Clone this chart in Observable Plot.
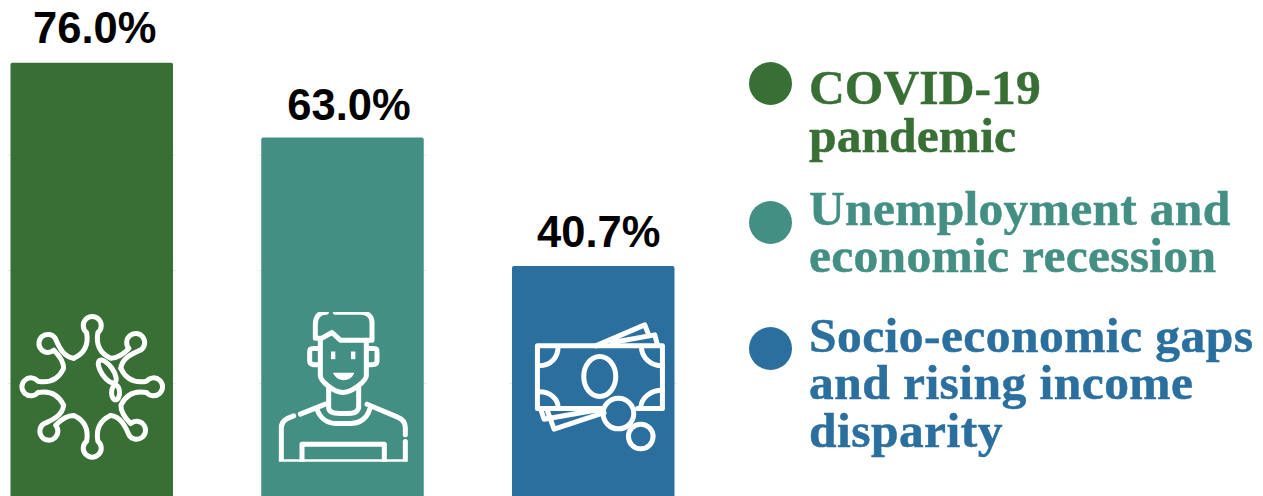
<!DOCTYPE html>
<html>
<head>
<meta charset="utf-8">
<script src="https://cdn.jsdelivr.net/npm/d3@7"></script>
<script src="https://cdn.jsdelivr.net/npm/@observablehq/plot@0.6"></script>
<style>
  html, body { margin: 0; background: #fff; width: 1263px; height: 496px; overflow: hidden; }
  #chart { position: absolute; left: 0; top: 0; }
  .legend-row { position: absolute; left: 749px; top: 0; }
  .legend-row i { position: absolute; left: 0; width: 43px; height: 43px; border-radius: 50%; }
  .legend-row p {
    position: absolute; left: 60px; margin: 0; white-space: pre;
    font: bold 49.5px/47.5px "Liberation Serif", serif;
    -webkit-text-stroke: 0.5px currentColor;
  }
</style>
</head>
<body>
<div id="chart"></div>
<div id="legend"></div>
<script>
// Shares of respondents naming each concern
const categories = ["COVID-19 pandemic", "Unemployment and economic recession", "Socio-economic gaps and rising income disparity"];
const shares = [76.0, 63.0, 40.7];
const colors = ["#376f35", "#448f84", "#2a6f9e"];
const legendLines = [["COVID-19", "pandemic"], ["Unemployment and", "economic recession"], ["Socio-economic gaps", "and rising income", "disparity"]];
const legendTracking = [0.1, 0.3, 0.45];
const gridLevels = [20.4, 40, 60];

// Outline pictograms, one per bar
const virusBody = [0, 90, 180, 270].map((a) => `<path transform="rotate(${a})" d="M-55,-86C-25,-100 -10,-125 -17,-163A27,27 0 1 1 17,-163C10,-125 25,-100 55,-86C80,-85 100,-105 110,-115A27,27 0 1 1 146,-111C120,-100 88,-85 86,-55"/>`).join("");
const virus = `<svg xmlns="http://www.w3.org/2000/svg" viewBox="-225 -225 450 450"><g fill="none" stroke="#fff" stroke-width="15" stroke-linecap="round" stroke-linejoin="round">${virusBody}<ellipse cx="45" cy="-46" rx="17" ry="40" transform="rotate(-35 45 -46)"/><ellipse cx="70" cy="17" rx="12" ry="22"/></g></svg>`;

const person = `<svg xmlns="http://www.w3.org/2000/svg" viewBox="803 93 450 450"><g fill="none" stroke="#fff" stroke-width="15" stroke-linecap="round" stroke-linejoin="round">
<path d="M978,94C955,94 945,110 945,130L945,172L965,172L995,155L1020,178L1115,178L1115,125C1115,105 1100,94 1080,94L1005,94"/>
<path d="M960,178L960,285C960,300 1000,335 1028,335C1055,335 1098,300 1098,285L1098,178"/>
<path d="M955,203L940,203C928,203 928,205 928,215L928,240C928,250 935,252 955,252"/>
<path d="M1105,203L1120,203C1130,203 1130,205 1130,215L1130,240C1130,250 1125,252 1105,252"/>
<path d="M985,320L985,380C985,395 1000,398 1020,398L1040,398C1060,398 1072,395 1075,380L1075,320"/>
<path d="M950,385C960,415 985,428 1010,428L1050,428C1075,428 1100,415 1108,385"/>
<path d="M900,400L975,370M880,405C860,412 843,420 843,440L843,543L1215,543L1215,482M1215,462L1215,440C1215,420 1200,412 1190,408L1100,370"/>
<path d="M905,543L905,490L1152,490L1152,543"/>
</g><g fill="#fff"><rect x="992" y="212" width="13" height="23"/><rect x="1052" y="212" width="13" height="23"/><path d="M998,276L1062,276C1056,292 1042,298 1030,298C1015,298 1004,290 998,276Z"/></g></svg>`;

const money = `<svg xmlns="http://www.w3.org/2000/svg" viewBox="54 333 450 450"><g fill="none" stroke="#fff" stroke-width="15" stroke-linecap="round" stroke-linejoin="round">
<path d="M305,623L110,623L110,435L485,435L485,623L410,623"/>
<path d="M115,495C150,495 172,470 172,438M485,495C450,495 422,470 422,438M115,573C150,573 172,595 172,620M485,568C450,568 422,590 420,620"/>
<ellipse cx="297" cy="527" rx="48" ry="60"/>
<circle cx="353" cy="638" r="46"/><circle cx="420" cy="707" r="37"/>
<path d="M285,435L432,372L445,405M335,425L462,402L470,432"/>
<path d="M120,625L130,655L300,625M140,630L160,685L310,635"/>
</g></svg>`;
const icons = [virus, person, money].map((s) => "data:image/svg+xml," + encodeURIComponent(s));
const iconLevel = 19.8;

const bars = categories.map((category, i) => ({category, share: shares[i], color: colors[i], icon: icons[i]}));
const ticks = bars.flatMap((b) => gridLevels.filter((g) => g + 1 < b.share).map((level) => ({category: b.category, level})));

// Value labels sit slightly off the bar centres
const labelDx = [2.5, 6, 5];
const labelDy = [-20, -18, -19];

const chart = Plot.plot({
  width: 1263,
  height: 496,
  margin: 0,
  style: {background: "transparent"},
  x: {domain: categories, range: [10.5, 674.5], paddingInner: 0.352, paddingOuter: 0, round: false, axis: null},
  y: {domain: [0, 100], range: [500.4, -75.6], axis: null},
  marks: [
    Plot.tickY(ticks, {x: "category", y: "level", stroke: "#e6e6e6", strokeWidth: 1, insetLeft: -2.5, insetRight: -2.5}),
    Plot.barY(bars, {x: "category", y: "share", fill: "color", rx: 2}),
    Plot.image(bars, {x: "category", y: () => iconLevel, src: "icon", width: 150, height: 150}),
    ...bars.map((b, i) => Plot.text([b], {
      x: "category", y: "share", text: (d) => d.share.toFixed(1) + "%",
      dx: labelDx[i], dy: labelDy[i], lineAnchor: "bottom",
      fontFamily: "Liberation Sans, Arial, sans-serif", fontWeight: "bold", fontSize: 43.5, fill: "#000"
    }))
  ]
});
document.getElementById("chart").append(chart);

// Key to the right of the bars
const dotTops = [62, 201, 327];
const textTops = [64, 184.5, 311.5];
legendLines.forEach((lines, i) => {
  const row = document.createElement("div");
  row.className = "legend-row";
  row.innerHTML = `<i style="top:${dotTops[i]}px;background:${colors[i]}"></i><p style="top:${textTops[i]}px;color:${colors[i]};letter-spacing:${legendTracking[i]}px">${lines.join("\n")}</p>`;
  document.getElementById("legend").append(row);
});
</script>
</body>
</html>
